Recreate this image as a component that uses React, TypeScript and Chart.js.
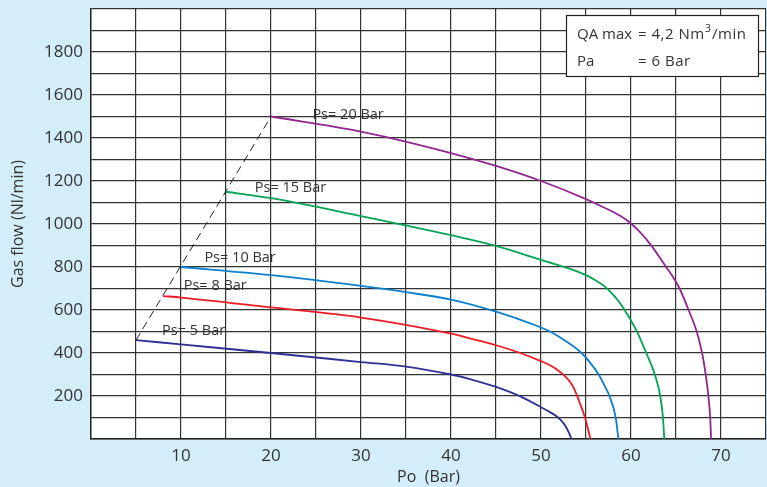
import { useEffect, useRef } from "react";
import { Chart, registerables } from "chart.js";

Chart.register(...registerables);

const FONT = "'Open Sans', 'Noto Sans', 'DejaVu Sans', sans-serif";
const TEXT = "#333333";
const BG = "#d4eef9";

// Series: Po (Bar) vs Gas flow (Nl/min)
const ps5X = [5, 10, 20, 30, 35, 40, 42.1, 45, 47.7, 50, 51, 51.9, 52.6, 53.1, 53.4];
const ps5Y = [460, 440, 400, 358, 337, 300, 279, 242, 198, 148, 125, 100, 68, 30, 0];

const ps8X = [8, 10, 20, 30, 40, 42.1, 45, 47.7, 50, 51, 51.8, 52.5, 53.3, 53.7, 54.2, 54.9, 55.5];
const ps8Y = [665, 658, 612, 565, 490, 468, 436, 400, 362, 343, 322, 298, 262, 232, 180, 98, 0];

const ps10X = [10, 20, 30, 35, 40, 45, 48.8, 51, 52.7, 54.5, 55.5, 56.4, 57.1, 57.6, 58.3, 58.6];
const ps10Y = [800, 762, 712, 683, 648, 592, 538, 500, 457, 400, 353, 300, 245, 200, 100, 0];

const ps15X = [15, 20, 30, 40, 45, 50, 54, 55, 56, 57, 58, 58.6, 59.2, 60.6, 61.7, 62.65, 63.25, 63.55, 63.7];
const ps15Y = [1150, 1120, 1037, 948, 898, 833, 780, 762, 740, 712, 672, 642, 606, 505, 400, 300, 200, 100, 0];

const ps20X = [20, 30, 40, 45, 50, 55, 57, 58.8, 59.9, 61, 62.2, 63.9, 64.65, 65.4, 66.4, 67.3, 67.9, 68.3, 68.6, 68.8, 68.9];
const ps20Y = [1500, 1430, 1330, 1270, 1200, 1116, 1077, 1038, 1006, 962, 903, 800, 755, 700, 600, 500, 400, 300, 200, 100, 0];

const seriesNames = ["Ps= 5 Bar", "Ps= 8 Bar", "Ps= 10 Bar", "Ps= 15 Bar", "Ps= 20 Bar"];
const seriesColors = ["#2e3192", "#ed1c24", "#0b80cc", "#00a651", "#92278f"];
const seriesX = [ps5X, ps8X, ps10X, ps15X, ps20X];
const seriesY = [ps5Y, ps8Y, ps10Y, ps15Y, ps20Y];

// Dashed envelope connecting the curve starts
const envelopeX = [5, 20];
const envelopeY = [460, 1500];

// Curve label anchors (left edge, vertical centre) in data units
const labelX = [7.9, 10.3, 12.6, 18.2, 24.6];
const labelY = [502, 712, 844, 1170, 1507];

// Info box
const infoKeys = ["QA max", "Pa"];
const infoValues = ["= 4,2 Nm³/min", "= 6 Bar"];

const xTitle = "Po  (Bar)";
const yTitle = "Gas flow (Nl/min)";

const plotBgPlugin = {
  id: "plotBg",
  beforeDraw(chart: any) {
    const { ctx, chartArea: a } = chart;
    ctx.save();
    ctx.fillStyle = "#ffffff";
    ctx.fillRect(a.left, a.top, a.right - a.left, a.bottom - a.top);
    ctx.restore();
  },
};

const annotationPlugin = {
  id: "annotations",
  afterDatasetsDraw(chart: any) {
    const ctx = chart.ctx as any;
    const xs = chart.scales.x;
    const ys = chart.scales.y;
    const area = chart.chartArea;
    ctx.save();
    // curve labels
    ctx.fillStyle = TEXT;
    ctx.font = `14.5px ${FONT}`;
    ctx.textAlign = "left";
    ctx.textBaseline = "middle";
    seriesNames.forEach((name, i) => {
      ctx.fillText(name, xs.getPixelForValue(labelX[i]), ys.getPixelForValue(labelY[i]));
    });
    // info box
    const bw = 192;
    const bh = 61;
    const bx = area.right - 8 - bw;
    const by = area.top + 6;
    ctx.fillStyle = "#ffffff";
    ctx.fillRect(bx, by, bw, bh);
    ctx.strokeStyle = "#222222";
    ctx.lineWidth = 1.2;
    ctx.strokeRect(bx + 0.5, by + 0.5, bw, bh);
    ctx.fillStyle = TEXT;
    const fontMain = `15px ${FONT}`;
    const fontSup = `10.5px ${FONT}`;
    infoKeys.forEach((key, i) => {
      const cy = by + 20 + i * 27;
      ctx.font = fontMain;
      ctx.textBaseline = "middle";
      ctx.letterSpacing = "0px";
      ctx.fillText(key, bx + 11, cy);
      ctx.letterSpacing = "0.5px";
      const parts = infoValues[i].split("³");
      let x = bx + 72;
      parts.forEach((p: string, j: number) => {
        ctx.font = fontMain;
        ctx.fillText(p, x, cy);
        x += ctx.measureText(p).width;
        if (j < parts.length - 1) {
          ctx.font = fontSup;
          ctx.fillText("3", x + 0.5, cy - 5.5);
          x += ctx.measureText("3").width + 1;
        }
      });
    });
    ctx.restore();
  },
};

export default function App() {
  const ref = useRef<HTMLCanvasElement | null>(null);

  useEffect(() => {
    const canvas = ref.current;
    if (!canvas) return;
    const datasets: any[] = seriesNames.map((name, i) => ({
      label: name,
      data: seriesX[i].map((x, k) => ({ x, y: seriesY[i][k] })),
      borderColor: seriesColors[i],
      backgroundColor: seriesColors[i],
      borderWidth: 1.8,
      pointRadius: 0,
      showLine: true,
      cubicInterpolationMode: "monotone",
      fill: false,
    }));
    datasets.push({
      label: "envelope",
      data: envelopeX.map((x, k) => ({ x, y: envelopeY[k] })),
      borderColor: "#222222",
      borderWidth: 1,
      borderDash: [8, 5],
      pointRadius: 0,
      showLine: true,
      fill: false,
    });

    const chart = new Chart(canvas, {
      type: "scatter",
      data: { datasets },
      plugins: [plotBgPlugin, annotationPlugin],
      options: {
        responsive: false,
        animation: false,
        devicePixelRatio: 1,
        layout: { padding: { left: 0, top: 9, right: 1, bottom: 0 } },
        plugins: { legend: { display: false }, tooltip: { enabled: false } },
        scales: {
          x: {
            type: "linear",
            min: 0,
            max: 75,
            afterFit: (s: any) => {
              s.height = 48;
              s.paddingLeft = 0;
              s.paddingRight = 0;
            },
            ticks: {
              stepSize: 5,
              autoSkip: false,
              maxRotation: 0,
              padding: 7,
              color: TEXT,
              font: { family: FONT, size: 17 },
              callback: (v: any) => (Number(v) % 10 === 0 && Number(v) !== 0 ? String(v) : ""),
            },
            grid: { color: "#333333", lineWidth: 1.2, drawTicks: false },
            border: { color: "#222222", width: 1.4 },
            title: {
              display: true,
              text: xTitle,
              color: TEXT,
              font: { family: FONT, size: 16 },
              padding: { top: 0, bottom: 0 },
            },
          },
          y: {
            type: "linear",
            min: 0,
            max: 2000,
            afterFit: (s: any) => {
              s.width = 91;
              s.paddingTop = 0;
              s.paddingBottom = 0;
            },
            ticks: {
              stepSize: 100,
              autoSkip: false,
              padding: 8,
              color: TEXT,
              font: { family: FONT, size: 17 },
              callback: (v: any) => {
                const n = Number(v);
                return n % 200 === 0 && n !== 0 && n !== 2000 ? String(n) : "";
              },
            },
            grid: { color: "#333333", lineWidth: 1.2, drawTicks: false },
            border: { color: "#222222", width: 1.4 },
            title: {
              display: true,
              text: yTitle,
              color: TEXT,
              font: { family: FONT, size: 16 },
              padding: { top: 9, bottom: 0 },
            },
          },
        },
      },
    } as any);
    return () => chart.destroy();
  }, []);

  return (
    <div
      style={{
        position: "fixed",
        left: 0,
        top: 0,
        width: 767,
        height: 487,
        background: BG,
      }}
    >
      <canvas ref={ref} width={767} height={487} style={{ display: "block", width: 767, height: 487 }} />
    </div>
  );
}
